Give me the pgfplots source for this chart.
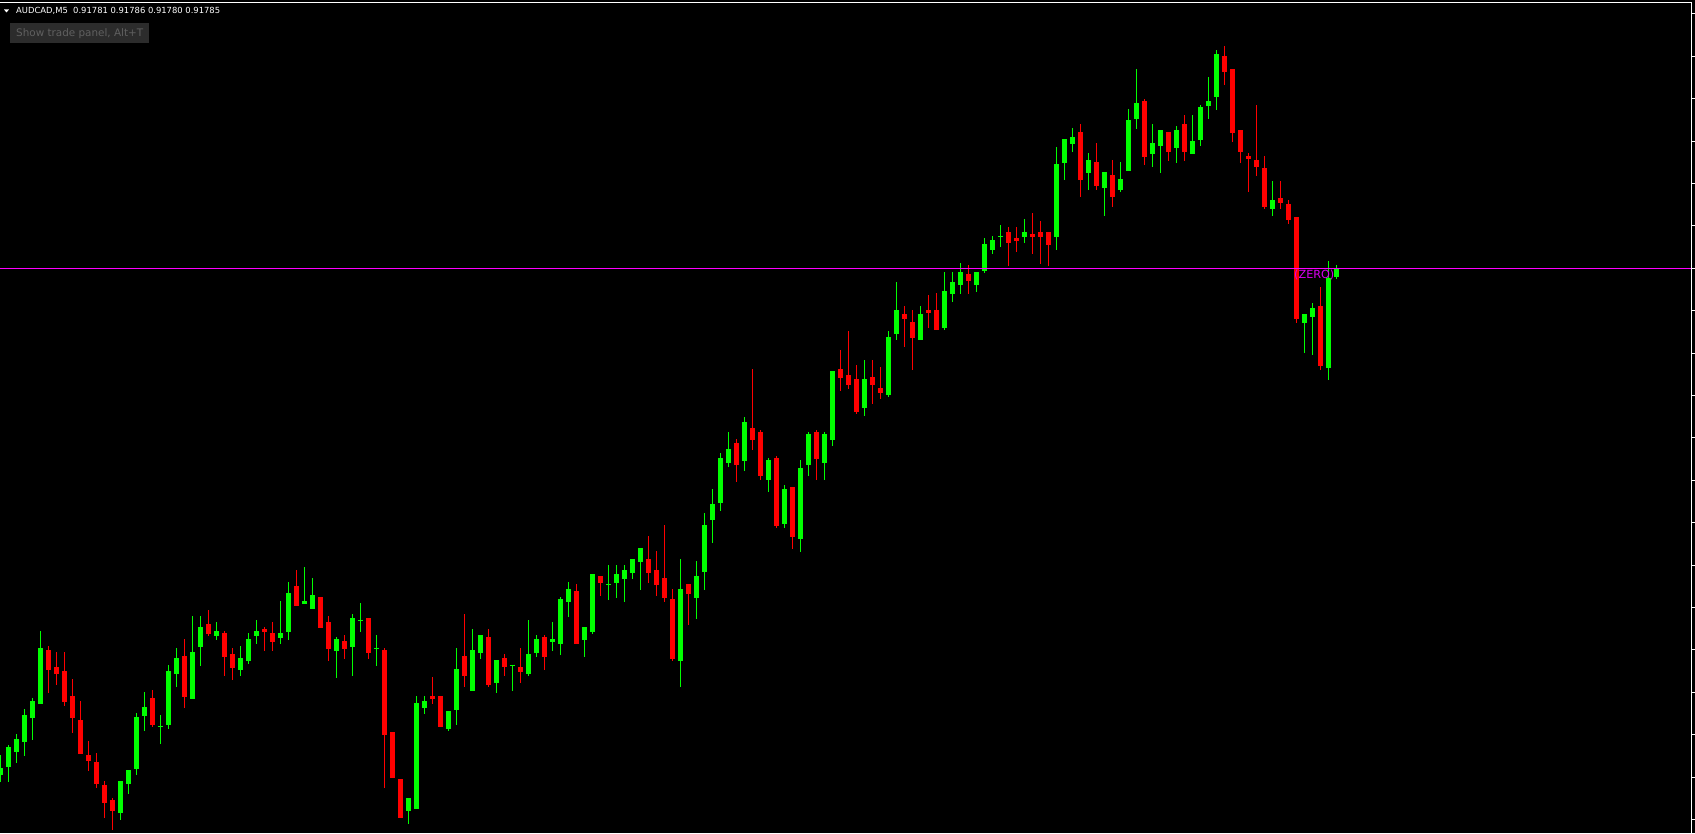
\documentclass[border=0pt]{standalone}
\usepackage{fontspec}
\setmainfont{DejaVu Sans}
\usepackage{pgfplots}
\usepackage{pgfplotstable}
\pgfplotsset{compat=1.18}
\definecolor{bull}{HTML}{00FF00}
\definecolor{bear}{HTML}{FF0000}
\definecolor{zeroline}{HTML}{FF00FF}
\definecolor{zerotext}{HTML}{D800F0}
\definecolor{panelbg}{HTML}{2C2C2C}
\definecolor{paneltx}{HTML}{606060}

% candles, screen units: hi = wick top, bt/bb = body top/bottom, lo = wick bottom
\pgfplotstableread{
i hi bt bb lo
0 755 768 775 782
1 745 747 767 782
2 734 739 752 763
3 709 715 742 756
4 698 701 718 740
5 631 648 704 704
15 781 781 813 820
16 770 770 784 794
17 713 717 769 775
18 692 707 716 731
20 715 725.5 726.5 744
21 665 671 725 729
22 648 658 674 687
24 616 652 699 699
25 616 627 647 666
27 622 631 636 640
30 646 658 670 676
31 633 639 661 664
32 620 631 636 644
35 601 633 638 644
36 582 593 632 640
38 567 601 604 604
39 578 595 609 609
42 637 639 651 678
44 614 618 647 676
45 603 619.5 620.5 632
47 635 647.5 648.5 666
51 798 798 811 824
52 696 703 809 809
53 696 701 708 714
56 711 711 729 731
57 648 669 710 725
59 629 650 691 691
60 635 635 653 659
62 660 660 683 693
64 664.5 664.5 665.5 691
66 620 654 674 676
67 635 639 653 657
69 622 639 642 651
70 597 599 644 655
71 582 589 602 617
73 627 627 640 657
74 574 574 632 634
76 565 583.8 584.8 600
77 565 574 583 598
78 565 570 579 602
79 559 559 573 579
80 548 548 562 590
85 559 589 661 687
87 561 576 598 619
88 513 525 572 590
89 489 504 520 543
90 453 458 503 511
91 432 449 463 467
93 417 422 461 471
96 458 460 480 492
98 485 489 524 528
100 460 468 539 552
101 432 434 465 476
103 432 434 463 480
104 371 371 440 446
108 360 379 408 416
111 331 337 395 397
112 282 310 334 340
115 306 314 340 340
118 272 291 328 330
119 272 282 294 302
120 263 272 285 294
122 272 272 285 292
123 238 244 271 273
124 236 240 250 254
125 225 235.8 236.8 247
128 219 232 237 243
132 147 164 237 250
133 139 139 163 180
134 128 137 144 152
136 153 160 173 190
138 172 172 188 216
140 162 179 190 192
141 109 120 171 171
142 69 103 119 129
144 124 143 154 167
145 130 130 146 173
147 126 130 148 163
149 115 141 154 154
150 105 107 140 146
151 77 101 106 119
152 50 54 97 110
159 181 200 209 216
163 314 314 323 353
164 303 308 317 355
166 261 278 368 380
167 265 268 277 279
}\bulltab

\pgfplotstableread{
i hi bt bb lo
6 646 650 670 693
7 652 667 674 685
8 652 671 702 706
9 679 696 718 733
10 701 720 754 754
11 741 755 761 771
12 753 762 784 788
13 781 785 803 818
14 798 800 811 830
19 690 698 725 727
23 639 656 697 708
26 610 624 634 636
28 631 633 657 676
29 648 654 668 680
33 627 629 632 651
34 622 633 642 651
37 570 586 606 606
40 597 597 628 628
41 616 622 649 661
43 635 641 649 659
46 618 618 653 659
48 648 650 735 788
49 732 732 778 778
50 779 779 818 818
54 677 696 699 704
55 696 696 727 727
58 614 656 676 687
61 629 637 685 687
63 654 658 667 676
65 648 667 672 683
68 635 637 657 670
72 584 591 644 644
75 576 576 583 596
81 536 559 573 583
82 551 570 585 596
83 525 578 598 602
84 589 599 659 661
86 584 584 594 625
92 439 443 465 482
94 369 428 440 450
95 430 432 476 480
97 456 458 526 528
99 487 487 537 549
102 430 432 459 480
105 350 369 378 391
106 331 375 385 389
107 365 379 412 414
109 360 377 385 404
110 367 388 393 399
113 306 314 319 347
114 310 322 338 370
116 295 310 313 328
117 293 310 330 330
121 265 274 281 294
126 227 232 243 266
127 227 238 241 252
129 213 234 237 254
130 221 232 237 264
131 232 232 245 266
135 124 132 180 197
137 143 162 186 190
139 160 175 197 207
143 99 101 157 165
146 132 132 152 161
148 115 124 152 161
153 46 56 72 85
154 69 69 133 142
155 130 130 152 163
156 153 156 159 192
157 105 160 167 176
158 156 168 207 209
160 181 198 203 209
161 200 204 220 224
162 217 217 319 323
165 287 306 366 370
}\beartab

\begin{document}
\begin{tikzpicture}
\fill[black] (0,0) rectangle (1695pt,833pt);
\begin{axis}[
  at={(0,0)}, anchor=south west,
  scale only axis,
  width=1692pt, height=831pt,
  xmin=-0.04, xmax=211.46,
  ymin=2, ymax=833, y dir=reverse,
  axis line style={draw=none},
  xtick=\empty,
  ytick={13.9,56.3,...,820},
  yticklabels={},
  ytick pos=right,
  tick align=outside,
  major tick length=3pt,
  ytick style={white, line width=1pt},
]
% wicks
\addplot[bull, line width=1pt, quiver={u=0, v=\thisrow{lo}-\thisrow{hi}}]
  table[x=i, y=hi] {\bulltab};
\addplot[bear, line width=1pt, quiver={u=0, v=\thisrow{lo}-\thisrow{hi}}]
  table[x=i, y=hi] {\beartab};
% bodies
\addplot[bull, line width=5pt, quiver={u=0, v=\thisrow{bb}-\thisrow{bt}}]
  table[x=i, y=bt] {\bulltab};
\addplot[bear, line width=5pt, quiver={u=0, v=\thisrow{bb}-\thisrow{bt}}]
  table[x=i, y=bt] {\beartab};
% zero level
\addplot[zeroline, line width=1pt] coordinates {(-1,268.3) (212,268.3)};
\draw[white, line width=1pt] (axis description cs:0,1) -- (axis description cs:1,1) -- (axis description cs:1,0);
\end{axis}
% header
\fill[white] (4pt,823.5pt) -- (9pt,823.5pt) -- (6.5pt,820.5pt) -- cycle;
\node[anchor=base west, inner sep=0pt, text=white, font=\fontsize{8.4}{10}\selectfont]
  at (16pt,819pt) {AUDCAD,M5\ \ 0.91781 0.91786 0.91780 0.91785};
\fill[panelbg] (10pt,809.7pt) rectangle (149pt,790.3pt);
\node[anchor=base west, inner sep=0pt, text=paneltx, font=\fontsize{10.4}{12}\selectfont]
  at (16pt,796.3pt) {Show trade panel, Alt+T};
\node[anchor=base west, inner sep=0pt, text=zerotext, font=\fontsize{11.2}{13}\selectfont]
  at (1294pt,554pt) {(ZERO)};
\pgfresetboundingbox
\useasboundingbox (0,0) rectangle (1695pt,833pt);
\end{tikzpicture}
\end{document}
